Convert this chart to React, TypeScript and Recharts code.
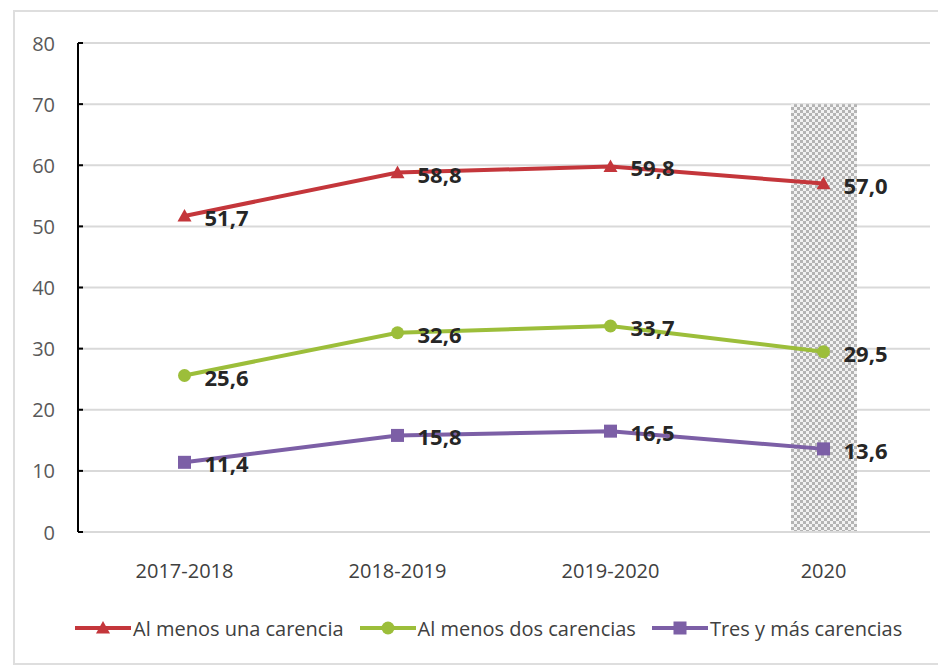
import React from "react";
import {
  ComposedChart,
  Line,
  Bar,
  XAxis,
  YAxis,
  CartesianGrid,
  Legend,
  LabelList,
} from "recharts";

const categories = ["2017-2018", "2018-2019", "2019-2020", "2020"];
const unaCarencia = [51.7, 58.8, 59.8, 57.0];
const dosCarencias = [25.6, 32.6, 33.7, 29.5];
const tresCarencias = [11.4, 15.8, 16.5, 13.6];
const shadedBand = [null, null, null, 70];
const yTicks = [0, 10, 20, 30, 40, 50, 60, 70, 80];

const seriesNames = {
  una: "Al menos una carencia",
  dos: "Al menos dos carencias",
  tres: "Tres y más carencias",
};

const RED = "#C4363B";
const GREEN = "#9CBE3A";
const PURPLE = "#7C5FA6";
const FONT = "'Open Sans', 'Noto Sans', sans-serif";

const data = categories.map((c, i) => ({
  cat: c,
  una: unaCarencia[i],
  dos: dosCarencias[i],
  tres: tresCarencias[i],
  shade: shadedBand[i],
}));

const fmt = (v: number) => v.toFixed(1).replace(".", ",");

const renderLabel = (props: any) => {
  const { x, y, value } = props;
  return (
    <text
      x={x + 20}
      y={y + 1}
      fill="#262626"
      fontSize={22}
      fontWeight={700}
      fontFamily={FONT}
      dominantBaseline="central"
      textAnchor="start"
    >
      {fmt(value)}
    </text>
  );
};

const triangleDot = (props: any) => {
  const { cx, cy, index } = props;
  const s = 7;
  return (
    <polygon
      key={`t-${index}`}
      points={`${cx},${cy - s} ${cx + s},${cy + s * 0.8} ${cx - s},${cy + s * 0.8}`}
      fill={RED}
    />
  );
};

const circleDot = (props: any) => {
  const { cx, cy, index } = props;
  return <circle key={`c-${index}`} cx={cx} cy={cy} r={6.5} fill={GREEN} />;
};

const squareDot = (props: any) => {
  const { cx, cy, index } = props;
  return (
    <rect key={`s-${index}`} x={cx - 6.5} y={cy - 6.5} width={13} height={13} fill={PURPLE} />
  );
};

const YTick = (props: any) => {
  const { x, y, payload } = props;
  return (
    <g>
      <line x1={x} x2={x + 5} y1={y} y2={y} stroke="#000" strokeWidth={2} />
      <text
        x={x - 23}
        y={y}
        textAnchor="end"
        dominantBaseline="central"
        fontSize={20}
        fontFamily={FONT}
        fill="#595959"
      >
        {payload.value}
      </text>
    </g>
  );
};

const XTick = (props: any) => {
  const { x, y, payload } = props;
  return (
    <text
      x={x}
      y={y + 38}
      textAnchor="middle"
      dominantBaseline="central"
      fontSize={20}
      fontFamily={FONT}
      fill="#404040"
    >
      {payload.value}
    </text>
  );
};

const legendItems = [
  { key: "una", color: RED, shape: "tri" },
  { key: "dos", color: GREEN, shape: "circ" },
  { key: "tres", color: PURPLE, shape: "sq" },
];

const LegendIcon = ({ color, shape }: { color: string; shape: string }) => (
  <svg width={56} height={20} style={{ display: "block" }}>
    <line x1={0} x2={56} y1={10} y2={10} stroke={color} strokeWidth={4} />
    {shape === "tri" && <polygon points="28,3 35,15.6 21,15.6" fill={color} />}
    {shape === "circ" && <circle cx={28} cy={10} r={6.5} fill={color} />}
    {shape === "sq" && <rect x={21.5} y={3.5} width={13} height={13} fill={color} />}
  </svg>
);

const renderLegend = () => (
  <div
    style={{
      width: 938,
      height: 30,
      display: "flex",
      alignItems: "center",
      paddingLeft: 67,
      boxSizing: "border-box",
      fontFamily: FONT,
      fontSize: 20,
      color: "#404040",
    }}
  >
    {legendItems.map((it, i) => (
      <div
        key={it.key}
        style={{ display: "flex", alignItems: "center", marginLeft: i === 0 ? 0 : 16 }}
      >
        <LegendIcon color={it.color} shape={it.shape} />
        <span style={{ marginLeft: 2, whiteSpace: "nowrap" }}>
          {(seriesNames as any)[it.key]}
        </span>
      </div>
    ))}
  </div>
);

export default function App() {
  return (
    <div style={{ position: "relative", width: 938, height: 660 }}>
      <div
        style={{
          position: "absolute",
          left: 5,
          top: 2,
          width: 933,
          height: 655,
          border: "2px solid #dedede",
          boxSizing: "border-box",
        }}
      />
      <div style={{ position: "absolute", left: 0, top: 0 }}>
        <ComposedChart
          width={938}
          height={660}
          data={data}
          margin={{ top: 35, right: 16, left: 20, bottom: 25 }}
        >
          <defs>
            <pattern id="dots" width="6" height="6" patternUnits="userSpaceOnUse">
              <rect width="6" height="6" fill="#f2f2f2" />
              <rect x="0" y="0" width="3" height="3" fill="#b4b4b4" />
              <rect x="3" y="3" width="3" height="3" fill="#b4b4b4" />
            </pattern>
          </defs>
          <CartesianGrid vertical={false} stroke="#d9d9d9" strokeWidth={2} />
          <XAxis
            dataKey="cat"
            height={81}
            tickSize={0}
            tickMargin={0}
            axisLine={{ stroke: "#d9d9d9", strokeWidth: 2 }}
            tickLine={false}
            tick={<XTick />}
          />
          <YAxis
            width={50}
            domain={[0, 80]}
            ticks={yTicks}
            interval={0}
            tickSize={0}
            tickMargin={0}
            axisLine={{ stroke: "#000", strokeWidth: 2 }}
            tickLine={false}
            tick={<YTick />}
          />
          <Legend verticalAlign="bottom" content={renderLegend} wrapperStyle={{ left: 0, width: 938 }} />
          <Bar
            dataKey="shade"
            barSize={66}
            fill="url(#dots)"
            isAnimationActive={false}
            legendType="none"
          />
          <Line
            dataKey="una"
            name={seriesNames.una}
            stroke={RED}
            strokeWidth={4}
            dot={triangleDot}
            activeDot={false}
            isAnimationActive={false}
          >
            <LabelList dataKey="una" content={renderLabel} />
          </Line>
          <Line
            dataKey="dos"
            name={seriesNames.dos}
            stroke={GREEN}
            strokeWidth={4}
            dot={circleDot}
            activeDot={false}
            isAnimationActive={false}
          >
            <LabelList dataKey="dos" content={renderLabel} />
          </Line>
          <Line
            dataKey="tres"
            name={seriesNames.tres}
            stroke={PURPLE}
            strokeWidth={4}
            dot={squareDot}
            activeDot={false}
            isAnimationActive={false}
          >
            <LabelList dataKey="tres" content={renderLabel} />
          </Line>
        </ComposedChart>
      </div>
    </div>
  );
}
